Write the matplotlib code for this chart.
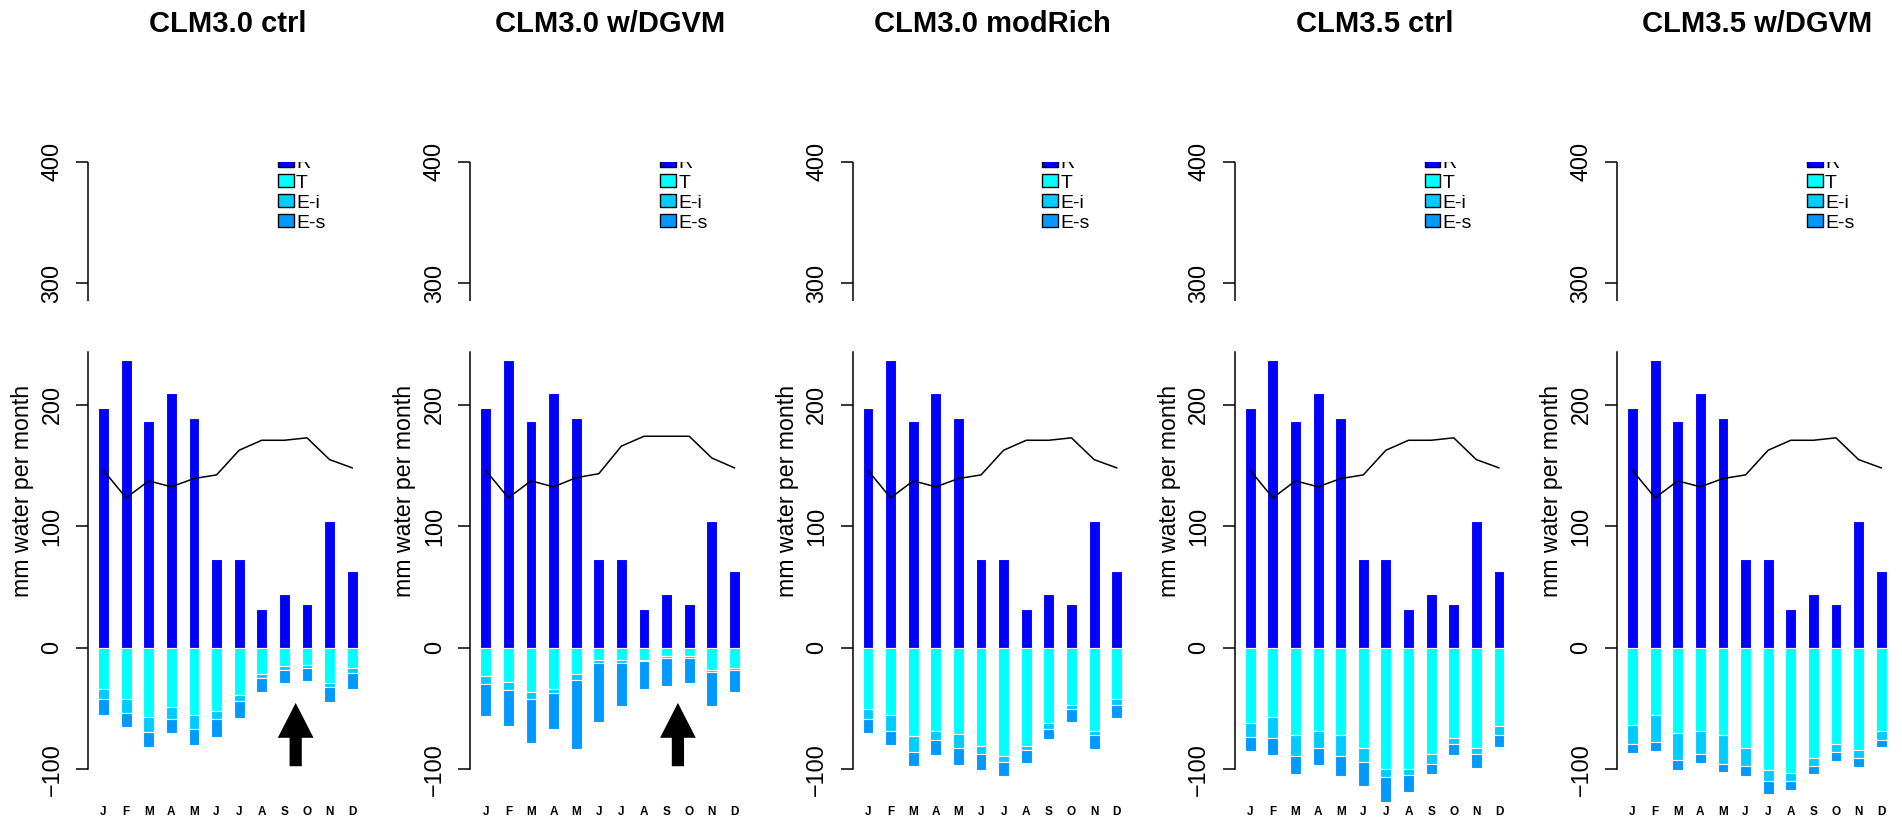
import matplotlib
matplotlib.use("Agg")
import matplotlib.pyplot as plt
import matplotlib.transforms as mtransforms
import matplotlib.patches as mpatches
import numpy as np

plt.rcParams['font.family'] = ['Liberation Sans', 'DejaVu Sans']

months = ['J', 'F', 'M', 'A', 'M', 'J', 'J', 'A', 'S', 'O', 'N', 'D']
titles = ['CLM3.0 ctrl', 'CLM3.0 w/DGVM', 'CLM3.0 modRich', 'CLM3.5 ctrl', 'CLM3.5 w/DGVM']
legend_labels = ['R', 'T', 'E-i', 'E-s']
colors = ['#0000FF', '#00FFFF', '#00CCFF', '#0099FF']

# positive bars (same in every panel)
rain = [197, 237, 187, 210, 189, 73, 73, 32, 44, 36, 104, 63]

# black line
line_a = [146, 123.4, 137.4, 132.5, 139.3, 142.3, 162.6, 170.8, 170.8, 172.8, 154.9, 148.1]
line_b = [146, 123.4, 137.4, 132.5, 140.0, 143.3, 166.0, 174.1, 174.1, 174.1, 156.2, 148.1]

# negative components, one list per panel
t1 = [-34.2, -42.1, -56.7, -48.8, -55.4, -52.1, -39.1, -21.8, -14.9, -13.8, -29.2, -16.3]
ei1 = [-7.9, -11.3, -12.7, -9.6, -11.0, -6.3, -5.0, -2.7, -3.3, -2.7, -3.0, -4.6]
es1 = [-13.5, -11.9, -12.4, -11.8, -13.5, -15.2, -13.5, -12.1, -10.5, -10.5, -12.4, -12.7]

t2 = [-22.9, -28.0, -36.0, -33.6, -21.5, -9.6, -9.6, -10.2, -6.9, -6.9, -17.9, -16.5]
ei2 = [-6.6, -6.3, -6.1, -3.7, -4.7, -2.5, -2.5, -0.5, -1.6, -1.6, -1.9, -1.7]
es2 = [-26.7, -29.6, -36.4, -29.4, -57.0, -48.5, -35.8, -22.9, -23.2, -20.2, -28.1, -18.2]

t3 = [-50.4, -55.1, -72.7, -68.0, -71.1, -81.0, -89.3, -81.0, -61.7, -47.1, -68.0, -42.4]
ei3 = [-8.0, -12.9, -13.0, -8.0, -11.5, -6.3, -4.4, -3.0, -5.0, -3.3, -3.3, -4.7]
es3 = [-11.8, -11.9, -11.8, -12.2, -13.5, -13.5, -12.1, -10.5, -8.5, -10.5, -11.9, -10.5]

t4 = [-61.7, -56.7, -71.3, -68.0, -71.3, -82.6, -100.0, -100.0, -87.3, -74.4, -82.6, -64.7]
ei4 = [-11.3, -17.7, -17.7, -14.6, -17.7, -11.1, -6.6, -5.0, -8.0, -4.9, -4.7, -6.6]
es4 = [-11.8, -13.8, -15.1, -13.5, -16.8, -20.1, -20.1, -13.5, -8.8, -8.9, -11.9, -10.5]

t5 = [-63.4, -55.1, -69.7, -68.0, -71.3, -82.6, -100.3, -103.3, -90.6, -79.3, -84.3, -68.0]
ei5 = [-15.9, -22.6, -22.6, -19.3, -24.0, -14.4, -9.3, -6.3, -6.4, -6.4, -6.3, -8.0]
es5 = [-7.2, -7.1, -8.5, -7.2, -7.2, -8.8, -10.5, -7.2, -7.1, -7.1, -7.2, -5.8]

panels = [(t1, ei1, es1, line_a), (t2, ei2, es2, line_b), (t3, ei3, es3, line_a),
          (t4, ei4, es4, line_a), (t5, ei5, es5, line_a)]
arrow_panels = [0, 1]
arrow_x = 8.5
arrow_tip, arrow_base = -45.3, -97.4

W, H = 1902, 822
fig = plt.figure(figsize=(W / 100, H / 100), dpi=100)

ylo, yhi = -120, 400
x = np.arange(12)
bw = 0.48

for i, (t, ei, es, ln) in enumerate(panels):
    ax = fig.add_axes([(88 + i * 382.25) / W, (822 - 793.7) / H, 279.7 / W, 632 / H])
    ax.set_xlim(-0.686, 11.686)
    ax.set_ylim(ylo, yhi)
    t = np.array(t); ei = np.array(ei); es = np.array(es)
    kw = dict(width=bw, edgecolor='white', linewidth=0.8, clip_on=False)
    ax.bar(x, rain, color=colors[0], **kw)
    ax.bar(x, t, color=colors[1], **kw)
    ax.bar(x, ei, bottom=t, color=colors[2], **kw)
    ax.bar(x, es, bottom=t + ei, color=colors[3], **kw)
    ax.plot(x, ln, color='black', lw=1.1, zorder=5)

    if i in arrow_panels:
        ax.add_patch(mpatches.FancyArrow(arrow_x, arrow_base, 0, arrow_tip - arrow_base,
                                         width=0.54, head_width=1.58, head_length=28.7,
                                         length_includes_head=True, color='black', lw=0))

    for s in ['top', 'right', 'bottom']:
        ax.spines[s].set_visible(False)
    ax.spines['left'].set_bounds(-100, 243.6)
    ax.spines['left'].set_linewidth(1.1)
    ax.plot([-0.686, -0.686], [285, 400], color='black', lw=1.1, clip_on=False,
            solid_capstyle='butt')

    ax.set_yticks([-100, 0, 100, 200, 300, 400])
    ax.tick_params(axis='y', length=8.6, width=1.1, pad=9, labelsize=16.8, labelrotation=90)
    for lab in ax.get_yticklabels():
        lab.set_va('center')
    ax.set_xticks(x)
    ax.set_xticklabels(months, fontsize=8.5, fontweight='bold')
    ax.tick_params(axis='x', length=0, pad=9)

    ax.text(-0.234, (129.4 - ylo) / (yhi - ylo), 'mm water per month', rotation=90,
            ha='center', va='center', fontsize=16.7, transform=ax.transAxes)
    ax.text(0.5, (793.7 - 24) / 632, titles[i], ha='center', va='center',
            fontsize=21, fontweight='bold', transform=ax.transAxes)

    # legend, clipped at the top of the plot region like the original
    trans = mtransforms.blended_transform_factory(ax.transAxes, ax.transData)
    for k, (lab, c) in enumerate(zip(legend_labels, colors)):
        yc = 401.2 - k * 16.6
        r = mpatches.Rectangle((0.679, yc - 5.45), 0.056, 10.9, transform=trans,
                               facecolor=c, edgecolor='black', lw=1.0, clip_on=True)
        ax.add_patch(r)
        ax.text(0.744, yc - 6.3, lab, transform=trans, fontsize=14, ha='left',
                va='baseline', clip_on=True)

fig.savefig('out.png', dpi=100)
